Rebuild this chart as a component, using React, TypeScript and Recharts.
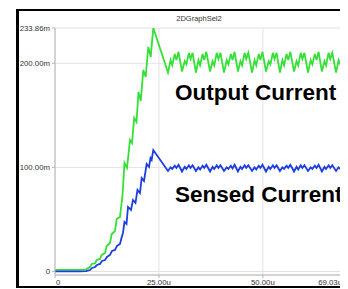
import React from 'react'
import { LineChart, Line, XAxis, YAxis, CartesianGrid } from 'recharts'

// rising part (time in u, current in m)
const outputTime = [0, 6.0, 7.46, 8.42, 8.83, 9.62, 10.03, 10.82, 11.23, 12.03, 12.43, 13.23, 13.64, 14.43, 14.84, 15.63, 15.99, 16.23, 16.71, 17.32, 18.04, 18.52, 19.05, 19.6, 20.08, 20.63, 21.24, 21.81, 22.44, 23.02, 23.64]
const outputCurrent = [1.5, 1.5, 2, 4.3, 7.2, 7.7, 11, 12, 15.9, 17.8, 24.5, 27.4, 36, 38.9, 50.4, 52.4, 64.8, 72.5, 104.2, 99.4, 126.3, 123.4, 147.5, 143.6, 172.4, 163.8, 193.6, 186.8, 215.7, 206.1, 233.86]

const sensedTime = [0, 6.0, 7.46, 8.42, 8.9, 9.62, 10.1, 10.82, 11.3, 12.03, 12.5, 13.23, 13.71, 14.43, 14.91, 15.63, 15.99, 16.35, 16.71, 17.2, 17.56, 18.28, 18.76, 19.36, 19.84, 20.44, 20.85, 21.4, 22.05, 22.61, 22.97, 23.25, 23.64]
const sensedCurrent = [0, 0, 0.3, 1.4, 3.4, 4.3, 6.2, 7.2, 10.1, 11, 13.9, 15.9, 19.7, 20.7, 24.5, 26.4, 32.2, 37, 47.6, 45.6, 62, 59.1, 68.7, 65.8, 78.3, 75.4, 89.8, 86.9, 103.3, 100.4, 109, 107.1, 116.7]

// steady state ripple, shared time base
const rippleTime = [
  27.18, 27.8, 28.2, 28.8, 29.2, 29.7,
  30.55, 31.2, 31.6, 32.2, 32.6, 33.1,
  33.9, 34.5, 34.9, 35.5, 35.9, 36.4,
  37.3, 37.9, 38.3, 38.9, 39.3, 39.8,
  40.65, 41.3, 41.7, 42.3, 42.7, 43.2,
  44.0, 44.6, 45.0, 45.6, 46.0, 46.5,
  47.4, 48.0, 48.4, 49.0, 49.4, 49.9,
  50.75, 51.4, 51.8, 52.4, 52.8, 53.3,
  54.1, 54.7, 55.1, 55.7, 56.1, 56.6,
  57.5, 58.1, 58.5, 59.1, 59.5, 60.0,
  60.85, 61.5, 61.9, 62.5, 62.9, 63.4,
  64.2, 64.8, 65.2, 65.8, 66.2, 66.7,
  67.6, 68.2, 68.6, 69.03,
]
const outputRipple = [
  191, 203, 198, 209, 203, 211,
  192, 202, 199, 210, 204, 210,
  191, 203, 198, 209, 203, 211,
  192, 202, 198, 210, 204, 210,
  191, 203, 199, 209, 203, 211,
  192, 202, 198, 210, 204, 210,
  191, 203, 198, 209, 203, 211,
  192, 202, 199, 210, 204, 210,
  191, 203, 198, 209, 203, 211,
  192, 202, 198, 210, 204, 210,
  191, 203, 199, 209, 203, 211,
  192, 202, 198, 210, 204, 210,
  191, 203, 199, 195,
]
const sensedRipple = [
  96.5, 100, 98.5, 101.5, 99.5, 102.5,
  96, 100.5, 98.5, 102, 99.5, 102,
  96.5, 100, 98, 101.5, 99.5, 102.5,
  96, 100.5, 98.5, 102, 99.5, 102,
  96.5, 100, 98.5, 101.5, 99, 102.5,
  96, 100.5, 98.5, 102, 99.5, 102,
  96.5, 100, 98, 101.5, 99.5, 102.5,
  96, 100.5, 98.5, 102, 99.5, 102,
  96.5, 100, 98.5, 101.5, 99.5, 102.5,
  96, 100.5, 98, 102, 99.5, 102,
  96.5, 100, 98.5, 101.5, 99.5, 102.5,
  96, 100.5, 98.5, 102, 99.5, 102,
  96.5, 100, 98.5, 97,
]

const xTicks = [0, 25, 50, 69.03]
const xTickLabels = ['0', '25.00u', '50.00u', '69.03u']
const yTicks = [0, 100, 200, 233.86]
const yTickLabels = ['0', '100.00m', '200.00m', '233.86m']

const outputData = [
  ...outputTime.map((t, i) => ({ t, v: outputCurrent[i] })),
  ...rippleTime.map((t, i) => ({ t, v: outputRipple[i] })),
]
const sensedData = [
  ...sensedTime.map((t, i) => ({ t, v: sensedCurrent[i] })),
  ...rippleTime.map((t, i) => ({ t, v: sensedRipple[i] })),
]

const font = '"Liberation Sans", Arial, sans-serif'

function XTick(props: any) {
  const { x, y, payload } = props
  const i = xTicks.indexOf(payload.value)
  const anchor = i === 0 ? 'start' : i === xTicks.length - 1 ? 'end' : 'middle'
  return (
    <text x={i === 0 ? x + 1 : x} y={y + 5} textAnchor={anchor} fontSize={7.8} fontFamily={font} fill="#333">
      {xTickLabels[i]}
    </text>
  )
}

function YTick(props: any) {
  const { x, y, payload } = props
  const i = yTicks.indexOf(payload.value)
  return (
    <text x={x} y={y + 2.8} textAnchor="end" fontSize={7.8} fontFamily={font} fill="#333">
      {yTickLabels[i]}
    </text>
  )
}

export default function App() {
  return (
    <div style={{ position: 'relative', width: 340, height: 281, overflow: 'hidden', background: '#fff' }}>
      <div
        style={{
          position: 'absolute',
          left: 8,
          top: 1,
          width: 400,
          height: 275,
          borderTop: '2px solid #000',
          borderBottom: '2px solid #000',
          borderLeft: '3px solid #000',
        }}
      />
      <div style={{ position: 'absolute', left: 0, top: 0 }}>
        <LineChart width={340} height={281} margin={{ top: 20, right: 6, bottom: 2, left: 0 }}>
          <CartesianGrid stroke="#e2e2e2" strokeWidth={1} verticalPoints={undefined} />
          <XAxis
            dataKey="t"
            type="number"
            domain={[0, 69.03]}
            ticks={xTicks}
            height={12}
            tickSize={3}
            stroke="#b5b5b5"
            tick={<XTick />}
            interval={0}
            allowDuplicatedCategory={false}
          />
          <YAxis
            dataKey="v"
            type="number"
            domain={[-3.4, 233.86]}
            ticks={yTicks}
            width={47}
            tickSize={3}
            stroke="#b5b5b5"
            tick={<YTick />}
            interval={0}
            allowDataOverflow
          />
          <Line data={outputData} dataKey="v" stroke="#35e035" strokeWidth={1.8} dot={false} isAnimationActive={false} />
          <Line data={sensedData} dataKey="v" stroke="#1c3ee0" strokeWidth={1.8} dot={false} isAnimationActive={false} />
        </LineChart>
      </div>
      <svg width={340} height={281} style={{ position: 'absolute', left: 0, top: 0, pointerEvents: 'none' }}>
        <text x={191} y={12.5} textAnchor="middle" fontSize={7.5} fontFamily={font} fill="#333">
          2DGraphSel2
        </text>
        <text x={167} y={91.5} fontSize={22.5} fontWeight="bold" fontFamily={font} fill="#000">
          Output Current
        </text>
        <text x={167} y={193.5} fontSize={22.5} fontWeight="bold" fontFamily={font} fill="#000">
          Sensed Current
        </text>
      </svg>
    </div>
  )
}
